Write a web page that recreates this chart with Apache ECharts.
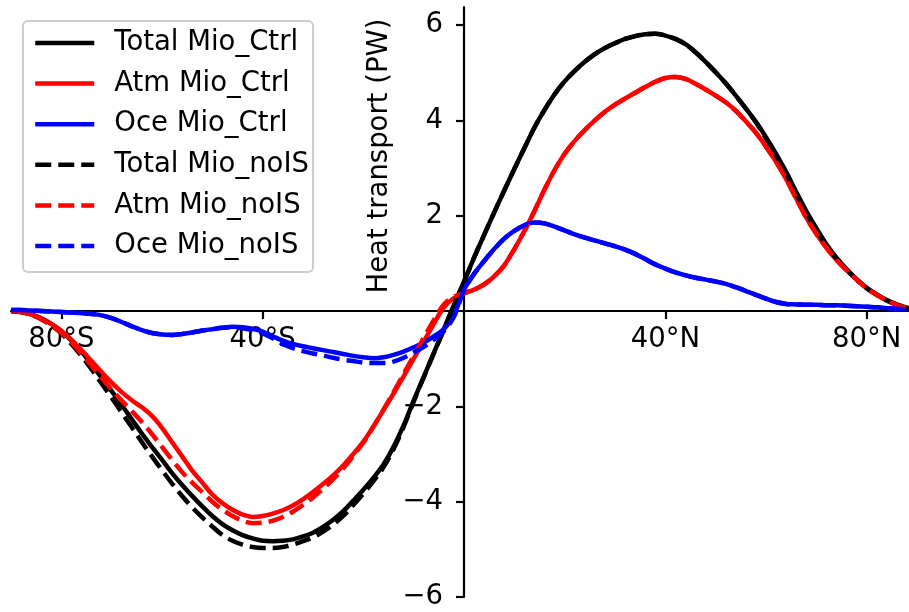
<!DOCTYPE html>
<html>
<head>
<meta charset="utf-8">
<script src="https://cdn.jsdelivr.net/npm/echarts@6/dist/echarts.min.js"></script>
<style>
html,body{margin:0;padding:0;background:#fff;}
#chart{width:909px;height:612px;}
</style>
</head>
<body>
<div id="chart"></div>
<script>
// Latitudes (degrees, -90 .. 90 every 2)
const lat = [-90,-88,-86,-84,-82,-80,-78,-76,-74,-72,-70,-68,-66,-64,-62,-60,-58,-56,-54,-52,-50,-48,-46,-44,-42,-40,-38,-36,-34,-32,-30,-28,-26,-24,-22,-20,-18,-16,-14,-12,-10,-8,-6,-4,-2,0,2,4,6,8,10,12,14,16,18,20,22,24,26,28,30,32,34,36,38,40,42,44,46,48,50,52,54,56,58,60,62,64,66,68,70,72,74,76,78,80,82,84,86,88,90];

const totalCtrl = [0,-0.02,-0.07,-0.15,-0.27,-0.42,-0.62,-0.85,-1.12,-1.4,-1.68,-1.97,-2.27,-2.57,-2.85,-3.12,-3.4,-3.65,-3.88,-4.1,-4.3,-4.47,-4.6,-4.7,-4.77,-4.82,-4.83,-4.82,-4.79,-4.73,-4.65,-4.53,-4.38,-4.2,-3.98,-3.75,-3.5,-3.22,-2.85,-2.4,-1.88,-1.38,-0.88,-0.38,0.13,0.62,1.12,1.6,2.07,2.53,2.98,3.42,3.85,4.22,4.55,4.82,5.04,5.23,5.39,5.52,5.62,5.71,5.77,5.81,5.82,5.78,5.71,5.6,5.43,5.23,5.01,4.78,4.52,4.25,3.97,3.65,3.3,2.92,2.5,2.1,1.74,1.4,1.12,0.88,0.67,0.49,0.35,0.23,0.14,0.07,0.02];

const atmCtrl = [0,-0.02,-0.07,-0.15,-0.27,-0.42,-0.6,-0.82,-1.05,-1.28,-1.5,-1.7,-1.87,-2.02,-2.2,-2.45,-2.75,-3.05,-3.35,-3.6,-3.85,-4.03,-4.17,-4.27,-4.32,-4.3,-4.25,-4.18,-4.08,-3.95,-3.8,-3.63,-3.45,-3.24,-3.0,-2.74,-2.42,-2.08,-1.73,-1.37,-1.0,-0.64,-0.27,0.08,0.27,0.37,0.45,0.56,0.73,0.96,1.3,1.68,2.1,2.55,2.96,3.3,3.57,3.8,4.0,4.18,4.33,4.46,4.58,4.7,4.81,4.89,4.91,4.87,4.77,4.65,4.52,4.38,4.2,3.98,3.74,3.45,3.13,2.77,2.36,1.96,1.62,1.33,1.07,0.86,0.66,0.48,0.34,0.22,0.13,0.06,0.01];

const oceCtrl = [0.02,0.02,0.01,0,-0.01,-0.02,-0.03,-0.04,-0.06,-0.09,-0.15,-0.23,-0.32,-0.4,-0.46,-0.49,-0.5,-0.48,-0.45,-0.41,-0.38,-0.35,-0.33,-0.34,-0.37,-0.43,-0.53,-0.62,-0.69,-0.74,-0.78,-0.82,-0.86,-0.9,-0.94,-0.97,-0.99,-0.97,-0.92,-0.85,-0.76,-0.66,-0.53,-0.38,-0.08,0.45,0.78,1.05,1.3,1.52,1.68,1.8,1.86,1.84,1.77,1.69,1.61,1.54,1.48,1.42,1.36,1.29,1.2,1.09,0.98,0.89,0.81,0.75,0.7,0.66,0.62,0.57,0.5,0.42,0.34,0.26,0.19,0.15,0.14,0.13,0.13,0.12,0.12,0.11,0.1,0.09,0.08,0.06,0.05,0.04,0.03];

const totalNoIS = [0,-0.02,-0.08,-0.17,-0.3,-0.47,-0.69,-0.94,-1.22,-1.52,-1.82,-2.13,-2.44,-2.75,-3.05,-3.34,-3.62,-3.88,-4.12,-4.33,-4.52,-4.7,-4.82,-4.9,-4.95,-4.97,-4.97,-4.95,-4.9,-4.83,-4.75,-4.63,-4.48,-4.3,-4.07,-3.83,-3.57,-3.28,-2.9,-2.43,-1.9,-1.39,-0.89,-0.39,0.12,0.61,1.12,1.6,2.07,2.53,2.98,3.42,3.85,4.22,4.55,4.82,5.04,5.23,5.39,5.52,5.62,5.71,5.77,5.81,5.82,5.78,5.71,5.6,5.43,5.23,5.01,4.78,4.52,4.25,3.96,3.62,3.26,2.88,2.46,2.06,1.7,1.37,1.1,0.87,0.66,0.48,0.34,0.22,0.13,0.06,0.01];

const atmNoIS = [0,-0.02,-0.08,-0.17,-0.3,-0.46,-0.66,-0.9,-1.15,-1.4,-1.65,-1.88,-2.1,-2.33,-2.58,-2.85,-3.12,-3.38,-3.6,-3.8,-4.0,-4.17,-4.3,-4.4,-4.45,-4.44,-4.4,-4.32,-4.21,-4.07,-3.91,-3.73,-3.53,-3.3,-3.04,-2.76,-2.43,-2.07,-1.7,-1.32,-0.94,-0.56,-0.19,0.14,0.3,0.38,0.45,0.56,0.73,0.96,1.3,1.68,2.1,2.55,2.96,3.3,3.57,3.8,4.0,4.18,4.33,4.46,4.58,4.7,4.81,4.89,4.91,4.87,4.77,4.65,4.52,4.38,4.2,3.98,3.74,3.45,3.13,2.77,2.36,1.96,1.62,1.33,1.07,0.86,0.66,0.48,0.34,0.22,0.13,0.06,0.01];

const oceNoIS = [0.02,0.02,0.01,0,-0.01,-0.02,-0.03,-0.04,-0.06,-0.09,-0.15,-0.23,-0.32,-0.4,-0.46,-0.49,-0.5,-0.48,-0.45,-0.41,-0.38,-0.35,-0.34,-0.36,-0.4,-0.47,-0.57,-0.69,-0.78,-0.84,-0.89,-0.93,-0.98,-1.02,-1.05,-1.08,-1.09,-1.09,-1.06,-0.98,-0.87,-0.75,-0.6,-0.42,-0.12,0.43,0.78,1.05,1.3,1.52,1.68,1.8,1.86,1.84,1.77,1.69,1.61,1.54,1.48,1.42,1.36,1.29,1.2,1.09,0.98,0.89,0.81,0.75,0.7,0.66,0.62,0.57,0.5,0.42,0.34,0.26,0.19,0.15,0.14,0.13,0.13,0.12,0.12,0.11,0.1,0.09,0.08,0.06,0.05,0.04,0.03];

const seriesNames = ['Total Mio_Ctrl','Atm Mio_Ctrl','Oce Mio_Ctrl','Total Mio_noIS','Atm Mio_noIS','Oce Mio_noIS'];
const seriesValues = [totalCtrl, atmCtrl, oceCtrl, totalNoIS, atmNoIS, oceNoIS];
const seriesColors = ['#000000','#ff0000','#0000ff','#000000','#ff0000','#0000ff'];
const seriesDashed = [false,false,false,true,true,true];

const xTicks = [-80,-40,40,80];
const xTickLabels = {'-80':'80°S','-40':'40°S','40':'40°N','80':'80°N'};
const yTicks = [-6,-4,-2,2,4,6];
const yName = 'Heat transport (PW)';

const FONT = 'DejaVu Sans';
const FS = 27.5;

// grid geometry (pixels)
const G_LEFT = 11, G_TOP = 7, G_W = 906, G_H = 590;
const X_MIN = -90, X_MAX = 90, Y_MIN = -6, Y_MAX = 6.38;
// move axes onto the zero lines via offsets
const yAxisOffset = -((0 - X_MIN) / (X_MAX - X_MIN) * G_W);
const xAxisOffset = -((0 - Y_MIN) / (Y_MAX - Y_MIN) * G_H);

const chart = echarts.init(document.getElementById('chart'), null, {renderer:'canvas'});

const LW = 4.5;
const series = seriesNames.map((name, i) => ({
  name: name,
  type: 'line',
  data: lat.map((x, k) => [x, seriesValues[i][k]]),
  symbol: 'none',
  smooth: 0.35,
  clip: true,
  lineStyle: {
    color: seriesColors[i],
    width: LW,
    type: seriesDashed[i] ? [16, 7] : 'solid',
    cap: 'butt'
  },
  itemStyle: {color: seriesColors[i]},
  emphasis: {disabled: true},
  animation: false
}));

chart.setOption({
  animation: false,
  backgroundColor: '#ffffff',
  grid: {left: G_LEFT, top: G_TOP, width: G_W, height: G_H, containLabel: false, outerBoundsMode: 'none'},
  xAxis: {
    type: 'value', min: X_MIN, max: X_MAX,
    position: 'bottom', offset: xAxisOffset,
    axisLine: {onZero: false, lineStyle: {color: '#000', width: 2.2}},
    axisTick: {show: true, customValues: xTicks, length: 8, lineStyle: {color: '#000', width: 2.2}},
    axisLabel: {
      customValues: xTicks, margin: 15,
      formatter: v => xTickLabels[String(v)] || '',
      fontFamily: FONT, fontSize: FS, color: '#000'
    },
    splitLine: {show: false}
  },
  yAxis: {
    type: 'value', min: Y_MIN, max: Y_MAX,
    position: 'left', offset: yAxisOffset,
    axisLine: {onZero: false, lineStyle: {color: '#000', width: 2.2}},
    axisTick: {show: true, customValues: yTicks, length: 8, lineStyle: {color: '#000', width: 2.2}},
    axisLabel: {
      customValues: yTicks, margin: 21,
      formatter: v => v < 0 ? '\u2212' + Math.abs(v) : String(v),
      fontFamily: FONT, fontSize: FS, color: '#000'
    },
    splitLine: {show: false}
  },
  legend: {
    orient: 'vertical',
    left: 33, top: 29,
    padding: 0,
    itemWidth: 59, itemHeight: 14,
    itemGap: 12.6,
    selectedMode: false,
    data: seriesNames,
    itemStyle: {opacity: 0},
    lineStyle: {width: LW},
    textStyle: {fontFamily: FONT, fontSize: FS, color: '#000', lineHeight: 28, padding: [0,0,0,15]}
  },
  graphic: [
    {
      type: 'rect', z: 3,
      shape: {x: 23, y: 21, width: 290, height: 251, r: 5},
      style: {fill: 'rgba(255,255,255,0.8)', stroke: '#cccccc', lineWidth: 2}
    },
    {
      type: 'text', z: 5,
      x: 380, y: 156, rotation: Math.PI / 2,
      style: {text: yName, fontFamily: FONT, fontSize: FS, fill: '#000', align: 'center', verticalAlign: 'middle'}
    }
  ],
  series: series
});
</script>
</body>
</html>
